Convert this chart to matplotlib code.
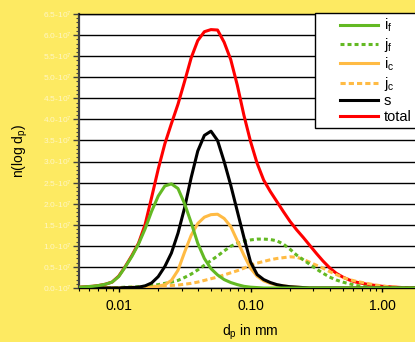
import matplotlib
matplotlib.use("Agg")
import matplotlib.pyplot as plt
from matplotlib.lines import Line2D
from matplotlib.legend_handler import HandlerLine2D
from matplotlib.ticker import FixedLocator, LogLocator, NullFormatter, MultipleLocator

plt.rcParams['font.family'] = ['Liberation Sans', 'DejaVu Sans']
plt.rcParams['mathtext.fontset'] = 'custom'
plt.rcParams['mathtext.rm'] = 'Liberation Sans'
plt.rcParams['mathtext.it'] = 'Liberation Sans:italic'

# particle diameter dp in mm (log-spaced classes)
d_mm = [0.00501, 0.00562, 0.00631, 0.00708, 0.00794, 0.00891, 0.01000, 0.01122, 0.01259, 0.01413,
        0.01585, 0.01778, 0.01995, 0.02239, 0.02512, 0.02818, 0.03162, 0.03548, 0.03981, 0.04467,
        0.05012, 0.05623, 0.06310, 0.07079, 0.07943, 0.08913, 0.1000, 0.1122, 0.1259, 0.1413,
        0.1585, 0.1778, 0.1995, 0.2239, 0.2512, 0.2818, 0.3162, 0.3548, 0.3981, 0.4467,
        0.5012, 0.5623, 0.6310, 0.7079, 0.7943, 0.8913, 1.000, 1.122, 1.259, 1.413,
        1.585, 1.778, 1.995]

# number density n(log dp), in units of 1e7
n_if = [0.02, 0.03, 0.04, 0.06, 0.09, 0.14, 0.27, 0.50, 0.75, 1.04,
        1.40, 1.82, 2.18, 2.42, 2.47, 2.36, 2.00, 1.55, 1.06, 0.70,
        0.46, 0.31, 0.20, 0.13, 0.08, 0.04, 0.02, 0.01, 0.00, 0.00,
        0.00, 0.00, 0.00, 0.00, 0.00, 0.00, 0.00, 0.00, 0.00, 0.00,
        0.00, 0.00, 0.00, 0.00, 0.00, 0.00, 0.00, 0.00, 0.00, 0.00,
        0.00, 0.00, 0.00]

n_jf = [0.00, 0.00, 0.00, 0.01, 0.01, 0.01, 0.01, 0.02, 0.02, 0.03,
        0.04, 0.06, 0.08, 0.11, 0.14, 0.18, 0.25, 0.33, 0.43, 0.54,
        0.65, 0.76, 0.88, 0.99, 1.06, 1.11, 1.14, 1.16, 1.16, 1.15,
        1.12, 1.04, 0.92, 0.78, 0.67, 0.56, 0.45, 0.35, 0.26, 0.19,
        0.14, 0.10, 0.06, 0.04, 0.02, 0.01, 0.01, 0.00, 0.00, 0.00,
        0.00, 0.00, 0.00]

n_ic = [0.00, 0.00, 0.00, 0.00, 0.00, 0.00, 0.00, 0.00, 0.00, 0.00,
        0.01, 0.02, 0.04, 0.08, 0.18, 0.42, 0.85, 1.25, 1.53, 1.68,
        1.74, 1.75, 1.65, 1.46, 1.12, 0.78, 0.47, 0.28, 0.17, 0.11,
        0.07, 0.05, 0.03, 0.02, 0.01, 0.00, 0.00, 0.00, 0.00, 0.00,
        0.00, 0.00, 0.00, 0.00, 0.00, 0.00, 0.00, 0.00, 0.00, 0.00,
        0.00, 0.00, 0.00]

n_jc = [0.00, 0.00, 0.00, 0.00, 0.01, 0.01, 0.01, 0.01, 0.02, 0.02,
        0.03, 0.04, 0.04, 0.05, 0.06, 0.07, 0.09, 0.11, 0.14, 0.18,
        0.22, 0.26, 0.31, 0.36, 0.41, 0.47, 0.54, 0.59, 0.63, 0.67,
        0.70, 0.72, 0.74, 0.73, 0.68, 0.61, 0.54, 0.47, 0.39, 0.32,
        0.25, 0.20, 0.16, 0.13, 0.10, 0.07, 0.05, 0.03, 0.02, 0.01,
        0.01, 0.00, 0.00]

n_s = [0.00, 0.00, 0.00, 0.00, 0.00, 0.00, 0.00, 0.01, 0.01, 0.02,
       0.05, 0.12, 0.27, 0.51, 0.83, 1.30, 1.90, 2.62, 3.25, 3.62,
       3.72, 3.50, 3.00, 2.44, 1.82, 1.20, 0.62, 0.32, 0.20, 0.13,
       0.08, 0.05, 0.03, 0.02, 0.01, 0.00, 0.00, 0.00, 0.00, 0.00,
       0.00, 0.00, 0.00, 0.00, 0.00, 0.00, 0.00, 0.00, 0.00, 0.00,
       0.00, 0.00, 0.00]

n_total = [0.02, 0.03, 0.04, 0.06, 0.09, 0.14, 0.28, 0.51, 0.77, 1.06,
           1.50, 2.15, 2.82, 3.42, 3.90, 4.36, 4.90, 5.46, 5.87, 6.08,
           6.13, 6.12, 5.83, 5.42, 4.81, 4.10, 3.48, 2.96, 2.56, 2.29,
           2.05, 1.81, 1.58, 1.38, 1.20, 1.01, 0.82, 0.64, 0.48, 0.35,
           0.26, 0.19, 0.14, 0.11, 0.08, 0.06, 0.04, 0.03, 0.02, 0.01,
           0.01, 0.00, 0.00]

y_ticks = [0.0, 0.5, 1.0, 1.5, 2.0, 2.5, 3.0, 3.5, 4.0, 4.5, 5.0, 5.5, 6.0, 6.5]
x_ticks = [0.01, 0.1, 1.0]
x_tick_labels = ["0.01", "0.10", "1.00"]

BG = '#FDEA62'
GREEN = '#63B923'
ORANGE = '#FFBB44'
RED = '#FF0000'

W, H = 415, 342
fig = plt.figure(figsize=(W / 100, H / 100), dpi=100, facecolor=BG)
left_px, right_px, top_px, bottom_px = 79, 422, 14, 288
ax = fig.add_axes([left_px / W, 1 - bottom_px / H, (right_px - left_px) / W, (bottom_px - top_px) / H])
ax.set_facecolor('white')

lw = 2.2
l_tot, = ax.plot(d_mm, n_total, color=RED, lw=lw, zorder=3)
l_jc, = ax.plot(d_mm, n_jc, color=ORANGE, lw=lw, ls=(0, (1.7, 1.0)), zorder=4)
l_jf, = ax.plot(d_mm, n_jf, color=GREEN, lw=lw, ls=(0, (1.3, 1.0)), zorder=5)
l_ic, = ax.plot(d_mm, n_ic, color=ORANGE, lw=lw, zorder=6)
l_s, = ax.plot(d_mm, n_s, color='black', lw=lw, zorder=7)
l_if, = ax.plot(d_mm, n_if, color=GREEN, lw=lw, zorder=8)

ax.set_xscale('log')
ax.set_xlim(0.005, 2.0)
ax.set_ylim(0, 6.5)

# y axis
ax.yaxis.set_major_locator(FixedLocator(y_ticks))
ax.yaxis.set_minor_locator(MultipleLocator(0.1))
ax.set_yticklabels([f"{v:.1f}-10$^7$" for v in y_ticks])
ax.tick_params(axis='y', which='major', direction='out', length=4, width=1,
               color='#404040', labelsize=6, labelcolor='#FFF6C4', pad=1.5)
ax.tick_params(axis='y', which='minor', direction='out', length=2.4, width=0.8, color='#404040')
ax.yaxis.grid(True, which='major', color='black', lw=1.0)
ax.set_axisbelow(True)

# x axis
ax.xaxis.set_major_locator(FixedLocator(x_ticks))
ax.set_xticklabels(x_tick_labels)
ax.xaxis.set_minor_locator(LogLocator(base=10, subs=range(2, 10)))
ax.xaxis.set_minor_formatter(NullFormatter())
ax.tick_params(axis='x', which='major', direction='out', length=3, width=1,
               color='black', labelsize=10, labelcolor='black', pad=5)
ax.tick_params(axis='x', which='minor', direction='out', length=2, width=0.8, color='black')

ax.spines['left'].set_color('#404040')
ax.spines['left'].set_linewidth(1.6)
ax.spines['top'].set_linewidth(1.0)
ax.spines['bottom'].set_linewidth(1.0)

fig.text(250 / W, 1 - 332 / H, "d$_\\mathrm{p}$ in mm", ha='center', va='center', fontsize=10)
fig.text(20 / W, 1 - 151 / H, "n(log d$_\\mathrm{p}$)", ha='center', va='center',
         rotation=90, fontsize=10)

handles = [l_if, l_jf, l_ic, l_jc, l_s, l_tot]
labels = ["i$_\\mathrm{f}$", "j$_\\mathrm{f}$", "i$_\\mathrm{c}$", "j$_\\mathrm{c}$", "s", "total"]
fs = 10.5
fs_px = fs * 100 / 72
bpad = 0.25
pad_px = bpad * fs_px
frame_left = 315
line_start, line_end, text_start = 340, 378, 384
leg = ax.legend(handles, labels, loc='upper left',
                bbox_to_anchor=(frame_left / W, 1 - 13 / H), bbox_transform=fig.transFigure,
                borderaxespad=0, fancybox=False, framealpha=1, edgecolor='black',
                fontsize=fs, borderpad=bpad,
                handlelength=(line_end - frame_left - pad_px) / fs_px,
                handletextpad=(text_start - line_end) / fs_px, labelspacing=0.12,
                handler_map={Line2D: HandlerLine2D(xpad=(line_start - frame_left - pad_px) / fs_px)})
leg.get_frame().set_linewidth(1.0)
leg.set_zorder(10)

fig.savefig('out.png', dpi=100, facecolor=BG)
